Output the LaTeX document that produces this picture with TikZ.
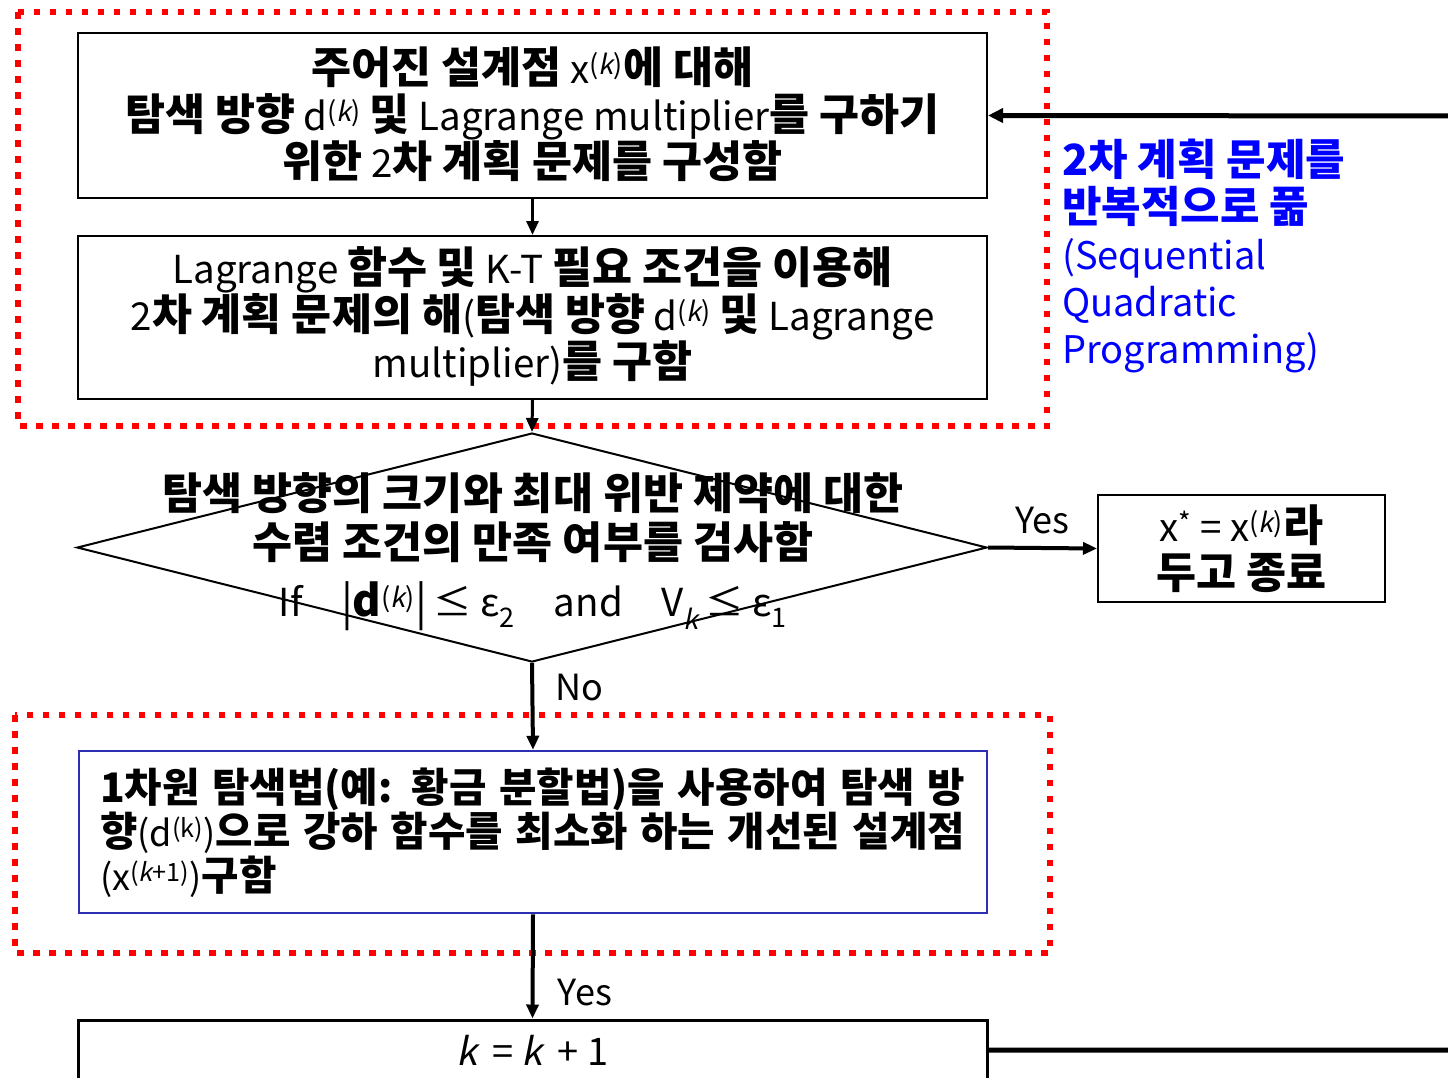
\documentclass[tikz,border=0pt]{standalone}
\usepackage{fontspec}
\setmainfont{Noto Sans CJK KR}[ItalicFont={Noto Sans CJK KR},ItalicFeatures={FakeSlant=0.2},BoldFeatures={Scale=1.13}]
\usetikzlibrary{arrows.meta,shapes.geometric}
\newcommand\kb[1]{{\bfseries #1}}
\newcommand\supk{\textsuperscript{(\textit{k})}}
\newcommand\vbarx{{\fontsize{44}{44}\selectfont\raisebox{-2pt}{|}}}
\begin{document}
\begin{tikzpicture}[x=1pt,y=-1pt,
  box/.style={draw, line width=2pt, minimum width=909pt, inner sep=0pt},
  reddot/.style={draw=red, line width=6.5pt, dash pattern=on 6.5pt off 9.5pt},
  arr/.style={-{Triangle[length=14pt,width=12pt]}, line width=3pt},
  big/.style={font=\fontsize{38.5}{47}\selectfont, align=center},
  lbl/.style={font=\fontsize{36}{40}\selectfont, inner sep=0pt}]
\useasboundingbox (0,0) rectangle (1448,1077);
\fill[white] (0,0) rectangle (1448,1077);
% red dotted frames
\draw[reddot] (18,12) rectangle (1047,426);
\draw[reddot] (15,715) rectangle (1050,953);
% boxes
\node[box, minimum height=165pt] (b1) at (532.5,115.5) {};
\node[box, minimum height=163pt] (b2) at (532.5,317.5) {};
\node[draw, line width=2pt, diamond, aspect=3.97, minimum width=910pt, minimum height=229pt, inner sep=0pt] (dia) at (532,547.5) {};
\node[box, minimum width=287pt, minimum height=107pt] (end) at (1241.5,548.5) {};
\node[draw={rgb,255:red,46;green,46;blue,180}, line width=2.5pt, minimum width=908pt, minimum height=162pt, inner sep=0pt] (blue) at (533,832) {};
\node[box, line width=3pt, minimum height=60pt] (kbox) at (532.5,1050) {};
% texts
\node[big] (t1) at (532.5,114) {\kb{주어진 설계점} x\supk\kb{에 대해}\\
\kb{탐색 방향} d\supk{} \kb{및} Lagrange multiplier\kb{를 구하기}\\
\kb{위한} 2\kb{차 계획 문제를 구성함}};
\node[big] (t2) at (532.5,316) {Lagrange \kb{함수 및} K-T \kb{필요 조건을 이용해}\\
2\kb{차 계획 문제의 해}(\kb{탐색 방향} d\supk{} \kb{및} Lagrange\\
multiplier)\kb{를 구함}};
\node[big, font=\fontsize{38.5}{49}\selectfont] (t3) at (533,552) {\kb{탐색 방향의 크기와 최대 위반 제약에 대한}\\
\kb{수렴 조건의 만족 여부를 검사함}\\[9pt]
If\quad\vbarx\textbf{d}\supk\vbarx\,≤ ε\textsubscript{2}\quad and\quad V\textsubscript{\textit{k}}\,≤ ε\textsubscript{1}};
\node[big] (t4) at (1241.5,549) {x\textsuperscript{*} = x\supk\kb{라}\\ \kb{두고 종료}};
\node[font=\fontsize{36}{44}\selectfont, align=left, anchor=west, inner sep=0pt] (t5) at (100,833) {%
\makebox[865pt][s]{\kb{1차원 탐색법(예: 황금 분할법)을 사용하여 탐색 방}}\\
\makebox[865pt][s]{\kb{향}(d\textsuperscript{(k)})\kb{으로 강하 함수를 최소화 하는 개선된 설계점}}\\
(x\textsuperscript{(\textit{k}+1)})\kb{구함}};
\node[font=\fontsize{38}{40}\selectfont, inner sep=0pt] (t6) at (532.5,1050) {\textit{k}\, = \textit{k}\, + 1};
\node[anchor=north west, align=left, text=blue, inner sep=0pt, font=\fontsize{38}{47}\selectfont] (side) at (1062,139) {%
\kb{2차 계획 문제를}\\ \kb{반복적으로 풂}\\ (Sequential\\ Quadratic\\ Programming)};
% connectors
\draw[arr] (b1.south) -- (b2.north);
\draw[arr] (b2.south) -- (dia.north);
\draw[arr, line width=4pt] (dia.east) -- node[lbl, above=12pt] (yes1) {Yes} (end.west);
\draw[arr, line width=4pt] (dia.south) -- node[lbl, right=21pt, pos=0.28] (no) {No} (blue.north);
\draw[arr, line width=4pt] (blue.south) -- node[lbl, right=23pt, pos=0.75] (yes2) {Yes} (kbox.north);
\draw[-{Triangle[length=15pt,width=14pt]}, line width=5pt] (kbox.east) -- (1480,1050) -- (1480,116) -- (b1.east);
\end{tikzpicture}
\end{document}
